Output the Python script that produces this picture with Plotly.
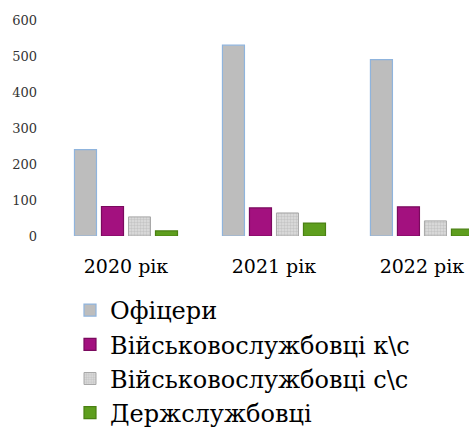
import plotly.graph_objects as go

years = ["2020 рік", "2021 рік", "2022 рік"]
series_names = ["Офіцери", "Військовослужбовці к\\с", "Військовослужбовці с\\с", "Держслужбовці"]
officers = [240, 530, 490]
contract = [82, 78, 81]
conscripts = [53, 64, 42]
civil = [14, 36, 19]
y_ticks = [0, 100, 200, 300, 400, 500, 600]

FONT = "DejaVu Serif"

fig = go.Figure()
fig.add_trace(go.Bar(
    name=series_names[0], x=years, y=officers,
    marker=dict(color="#BDBDBD", line=dict(color="#8FB4DD", width=1.2)),
))
fig.add_trace(go.Bar(
    name=series_names[1], x=years, y=contract,
    marker=dict(color="#A3117F", line=dict(color="#7A0A5E", width=1.2)),
))
fig.add_trace(go.Bar(
    name=series_names[2], x=years, y=conscripts,
    marker=dict(color="#DADADA", line=dict(color="#A8A8A8", width=1),
                pattern=dict(shape=".", fgcolor="#ABABAB", bgcolor="#DEDEDE", size=3, solidity=0.5)),
))
fig.add_trace(go.Bar(
    name=series_names[3], x=years, y=civil,
    marker=dict(color="#5E9E1E", line=dict(color="#4A8012", width=1.2)),
))

fig.update_layout(
    width=469, height=439,
    margin=dict(l=52, r=0, t=20, b=203, autoexpand=False),
    paper_bgcolor="white", plot_bgcolor="white",
    barmode="group", bargap=0.27, bargroupgap=0.185,
    font=dict(family=FONT, color="#000000"),
    showlegend=True,
    legend=dict(
        orientation="v",
        x=70 / 469, xanchor="left", xref="container",
        y=1 - 288 / 439, yanchor="top", yref="container",
        font=dict(family=FONT, size=24, color="#000000"),
        itemwidth=30, tracegroupgap=0,
        bgcolor="rgba(0,0,0,0)",
    ),
    xaxis=dict(
        range=[-0.5, 2.318], showline=False, showgrid=False, zeroline=False,
        ticks="", tickfont=dict(family=FONT, size=19, color="#000000"),
        ticklabelstandoff=17, tickangle=0,
    ),
    yaxis=dict(
        range=[0, 600], tickvals=y_ticks, showline=False, showgrid=False, zeroline=False,
        ticks="", tickfont=dict(family=FONT, size=13, color="#333333"),
        ticklabelstandoff=14,
    ),
)

fig.write_html("out.html")
